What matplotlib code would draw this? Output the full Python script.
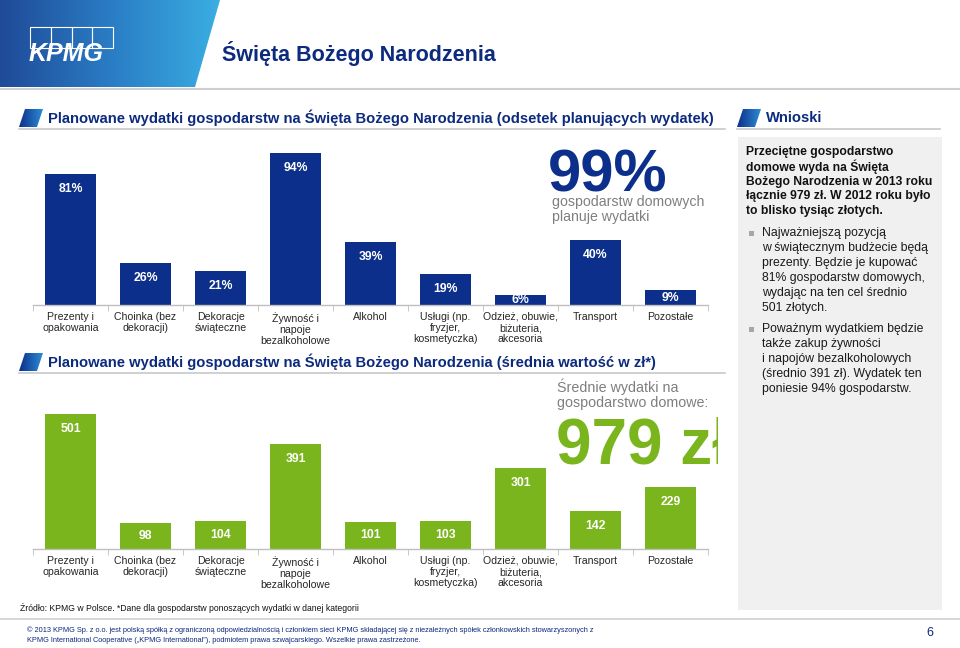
import matplotlib
matplotlib.use('Agg')
import matplotlib.pyplot as plt
import numpy as np
from matplotlib.patches import Polygon, Rectangle
from matplotlib.colors import LinearSegmentedColormap

plt.rcParams['font.family'] = ['Liberation Sans', 'DejaVu Sans']

# ---------------- data ----------------
categories = ['Prezenty i\nopakowania', 'Choinka (bez\ndekoracji)', 'Dekoracje\nświąteczne',
              'Żywność i\nnapoje\nbezalkoholowe', 'Alkohol', 'Usługi (np.\nfryzjer,\nkosmetyczka)',
              'Odzież, obuwie,\nbiżuteria,\nakcesoria', 'Transport', 'Pozostałe']
share_pct = [81, 26, 21, 94, 39, 19, 6, 40, 9]
avg_zl = [501, 98, 104, 391, 101, 103, 301, 142, 229]
share_labels = [f'{v}%' for v in share_pct]
avg_labels = [str(v) for v in avg_zl]

NAVY = '#0b2f8a'
TITLE = '#0c2a7e'
GREEN = '#7ab51d'
GRAY_TXT = '#7f7f7f'

W, H = 960, 648
fig = plt.figure(figsize=(9.6, 6.48), dpi=100)
bg = fig.add_axes([0, 0, 1, 1])
bg.axis('off')


def ax_px(x0, y0, x1, y1):
    return fig.add_axes([x0 / W, 1 - y1 / H, (x1 - x0) / W, (y1 - y0) / H])


def grad_poly(pts, colors, z=2):
    cmap = LinearSegmentedColormap.from_list('g', colors)
    xs = [p[0] for p in pts]
    ys = [p[1] for p in pts]
    im = bg.imshow(np.linspace(0, 1, 256).reshape(1, -1), extent=[min(xs), max(xs), max(ys), min(ys)],
                   cmap=cmap, aspect='auto', zorder=z)
    poly = Polygon(pts, closed=True, facecolor='none', edgecolor='none', transform=bg.transData)
    bg.add_patch(poly)
    im.set_clip_path(poly)


# header
grad_poly([[0, 0], [220, 0], [195, 87], [0, 87]], ['#1f4a98', '#2a7cc4', '#3aaee3'], z=1)
bg.plot([0, 960], [88.5, 88.5], color='#cfcfcf', lw=1.5, zorder=2)
for k in range(4):
    bg.add_patch(Rectangle((30 + k * 20.75, 27), 20.75, 21, facecolor='none', edgecolor='white', lw=0.8, zorder=3))
bg.text(29, 61, 'KPMG', fontsize=18, fontweight='bold', fontstyle='italic', color='white', va='baseline', ha='left', zorder=4)
bg.text(222, 53, 'Święta Bożego Narodzenia', fontsize=15.5, fontweight='bold', color=TITLE, va='center', ha='left')


def section(x, y, text, x_end, fs=10.6):
    grad_poly([[x + 6, y - 9], [x + 24, y - 9], [x + 18, y + 9], [x, y + 9]], ['#0b2f8a', '#2e8bd4'], z=3)
    bg.text(x + 29, y, text, fontsize=fs, fontweight='bold', color=TITLE, va='center', ha='left')
    bg.plot([x, x_end], [y + 10.5, y + 10.5], color='#c8c8c8', lw=1.2)


section(19, 118, 'Planowane wydatki gospodarstw na Święta Bożego Narodzenia (odsetek planujących wydatek)', 725)
section(19, 362, 'Planowane wydatki gospodarstw na Święta Bożego Narodzenia (średnia wartość w zł*)', 725)
section(737, 118, 'Wnioski', 940, fs=10.6)

# right panel
bg.add_patch(Rectangle((738, 137), 204, 473, facecolor='#f0f0f0', edgecolor='none', zorder=1))
bold_lines = ['Przeciętne gospodarstwo', 'domowe wyda na Święta', 'Bożego Narodzenia w 2013 roku',
              'łącznie 979 zł. W 2012 roku było', 'to blisko tysiąc złotych.']
for i, s in enumerate(bold_lines):
    bg.text(746, 152 + i * 14.8, s, fontsize=8.7, fontweight='bold', color='#111111', va='center', ha='left')
bullets = [
    (233, ['Najważniejszą pozycją', 'w świątecznym budżecie będą', 'prezenty. Będzie je kupować',
           '81% gospodarstw domowych,', 'wydając na ten cel średnio', '501 złotych.']),
    (329, ['Poważnym wydatkiem będzie', 'także zakup żywności', 'i napojów bezalkoholowych',
           '(średnio 391 zł). Wydatek ten', 'poniesie 94% gospodarstw.']),
]
for y0, lines in bullets:
    bg.add_patch(Rectangle((749, y0 - 2.5), 5, 5, facecolor='#a6a6a6', edgecolor='none', zorder=2))
    for i, s in enumerate(lines):
        bg.text(762, y0 + i * 15, s, fontsize=8.8, color='#1a1a1a', va='center', ha='left')


def bar_chart(rect, values, labels, color, ymax, px_per_unit):
    ax = ax_px(*rect)
    x = np.arange(len(values))
    ax.bar(x, values, width=0.68, color=color, zorder=2)
    ax.set_xlim(-0.5, len(values) - 0.5)
    ax.set_ylim(0, ymax)
    for s in ['top', 'right', 'left']:
        ax.spines[s].set_visible(False)
    ax.spines['bottom'].set_color('#bfbfbf')
    ax.spines['bottom'].set_linewidth(1)
    ax.set_yticks([])
    ax.set_xticks(x)
    ax.set_xticklabels(categories, fontsize=7.6, color='#262626', linespacing=1.15)
    ax.tick_params(axis='x', which='major', length=0, pad=5)
    ax.set_xticks(np.arange(-0.5, len(values)), minor=True)
    ax.tick_params(axis='x', which='minor', length=4, color='#bfbfbf', direction='out')
    ax.patch.set_alpha(0)
    for i, (v, lab) in enumerate(zip(values, labels)):
        hpx = v * px_per_unit
        off = min(15, hpx / 2) * 0.72
        ax.annotate(lab, xy=(i, v), xytext=(0, -off), textcoords='offset points', ha='center', va='center',
                    fontsize=8.8, fontweight='bold', color='white', zorder=3)
    return ax


bar_chart((33, 145, 708, 305), share_pct, share_labels, NAVY, 160 / 1.617, 1.617)
bar_chart((33, 385, 708, 549), avg_zl, avg_labels, GREEN, 164 / 0.269, 0.269)

# callouts
bg.text(548, 191, '99%', fontsize=43, fontweight='bold', color=NAVY, va='baseline', ha='left')
bg.text(552, 202, 'gospodarstw domowych', fontsize=10.2, color=GRAY_TXT, va='center', ha='left')
bg.text(552, 217, 'planuje wydatki', fontsize=10.2, color=GRAY_TXT, va='center', ha='left')
bg.text(557, 387, 'Średnie wydatki na', fontsize=10.3, color=GRAY_TXT, va='center', ha='left')
bg.text(557, 403, 'gospodarstwo domowe:', fontsize=10.3, color=GRAY_TXT, va='center', ha='left')
clip = Rectangle((500, 380), 218, 100, facecolor='none', edgecolor='none', transform=bg.transData)
bg.add_patch(clip)
t = bg.text(556, 463, '979 zł', fontsize=46, fontweight='bold', color=GREEN, va='baseline', ha='left')
t.set_clip_path(clip)
t.set_clip_on(True)

# footer
bg.text(20, 608, 'Źródło: KPMG w Polsce. *Dane dla gospodarstw ponoszących wydatki w danej kategorii',
        fontsize=6.2, color='#111111', va='center', ha='left')
bg.plot([0, 960], [619, 619], color='#cfcfcf', lw=1.2)
bg.text(27, 630, '© 2013 KPMG Sp. z o.o. jest polską spółką z ograniczoną odpowiedzialnością i członkiem sieci KPMG '
        'składającej się z niezależnych spółek członkowskich stowarzyszonych z',
        fontsize=5.3, color=TITLE, va='center', ha='left')
bg.text(27, 640, 'KPMG International Cooperative („KPMG International”), podmiotem prawa szwajcarskiego. '
        'Wszelkie prawa zastrzeżone.', fontsize=5.3, color=TITLE, va='center', ha='left')
bg.text(930, 633, '6', fontsize=9, color=TITLE, va='center', ha='center')

bg.set_xlim(0, W)
bg.set_ylim(H, 0)
fig.savefig('out.png', dpi=100)
